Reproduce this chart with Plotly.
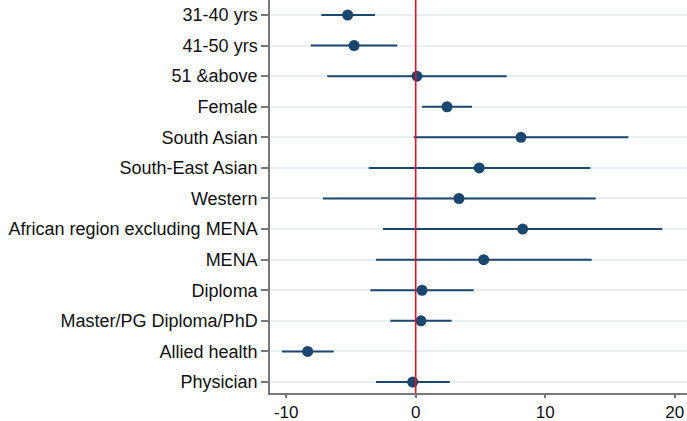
import plotly.graph_objects as go

categories = ["31-40 yrs", "41-50 yrs", "51 &above", "Female", "South Asian",
              "South-East Asian", "Western", "African region excluding MENA",
              "MENA", "Diploma", "Master/PG Diploma/PhD", "Allied health", "Physician"]
estimate = [-5.25, -4.76, 0.1, 2.42, 8.13, 4.91, 3.34, 8.26, 5.25, 0.49, 0.41, -8.34, -0.23]
ci_low = [-7.29, -8.11, -6.83, 0.49, -0.15, -3.63, -7.16, -2.53, -3.07, -3.5, -1.96, -10.32, -3.07]
ci_high = [-3.14, -1.42, 7.03, 4.35, 16.42, 13.48, 13.9, 19.04, 13.59, 4.48, 2.78, -6.33, 2.63]
x_ticks = [-10, 0, 10, 20]
x_tick_labels = ["-10", "0", "10", "20"]

err_plus = [h - e for h, e in zip(ci_high, estimate)]
err_minus = [e - l for e, l in zip(estimate, ci_low)]

blue = "#1a476f"
fig = go.Figure()
fig.add_trace(go.Scatter(
    x=estimate, y=categories, mode="markers",
    marker=dict(color=blue, size=11),
    error_x=dict(type="data", symmetric=False, array=err_plus, arrayminus=err_minus,
                 color=blue, thickness=2, width=0),
    showlegend=False, hoverinfo="skip",
))
fig.add_vline(x=0, line=dict(color="#e8112d", width=1.6), layer="above")

fig.update_layout(
    width=687, height=421,
    margin=dict(l=270, r=0, t=0, b=28),
    paper_bgcolor="white", plot_bgcolor="white",
    font=dict(family="Liberation Sans, Arial, sans-serif", size=18, color="#111111"),
)
fig.update_xaxes(
    range=[-11.25, 20.95], tickvals=x_ticks, ticktext=x_tick_labels,
    showgrid=False, zeroline=False, automargin=False,
    showline=True, linecolor="#777777", linewidth=1.5,
    ticks="outside", ticklen=3, tickcolor="#777777", tickwidth=1.5,
    tickfont=dict(size=17),
)
fig.update_yaxes(
    categoryorder="array", categoryarray=categories, autorange=False,
    range=[12.36, -0.49], automargin=False,
    showgrid=True, gridcolor="#e8f0f2", gridwidth=1.5, zeroline=False,
    showline=True, linecolor="#777777", linewidth=1.5,
    ticks="outside", ticklen=7, tickcolor="#777777", tickwidth=1.5,
    tickfont=dict(size=18),
)
fig.write_html(
    "out.html",
    config={"displayModeBar": False},
    post_script="document.body.style.margin='0';document.body.style.overflow='hidden';",
)
